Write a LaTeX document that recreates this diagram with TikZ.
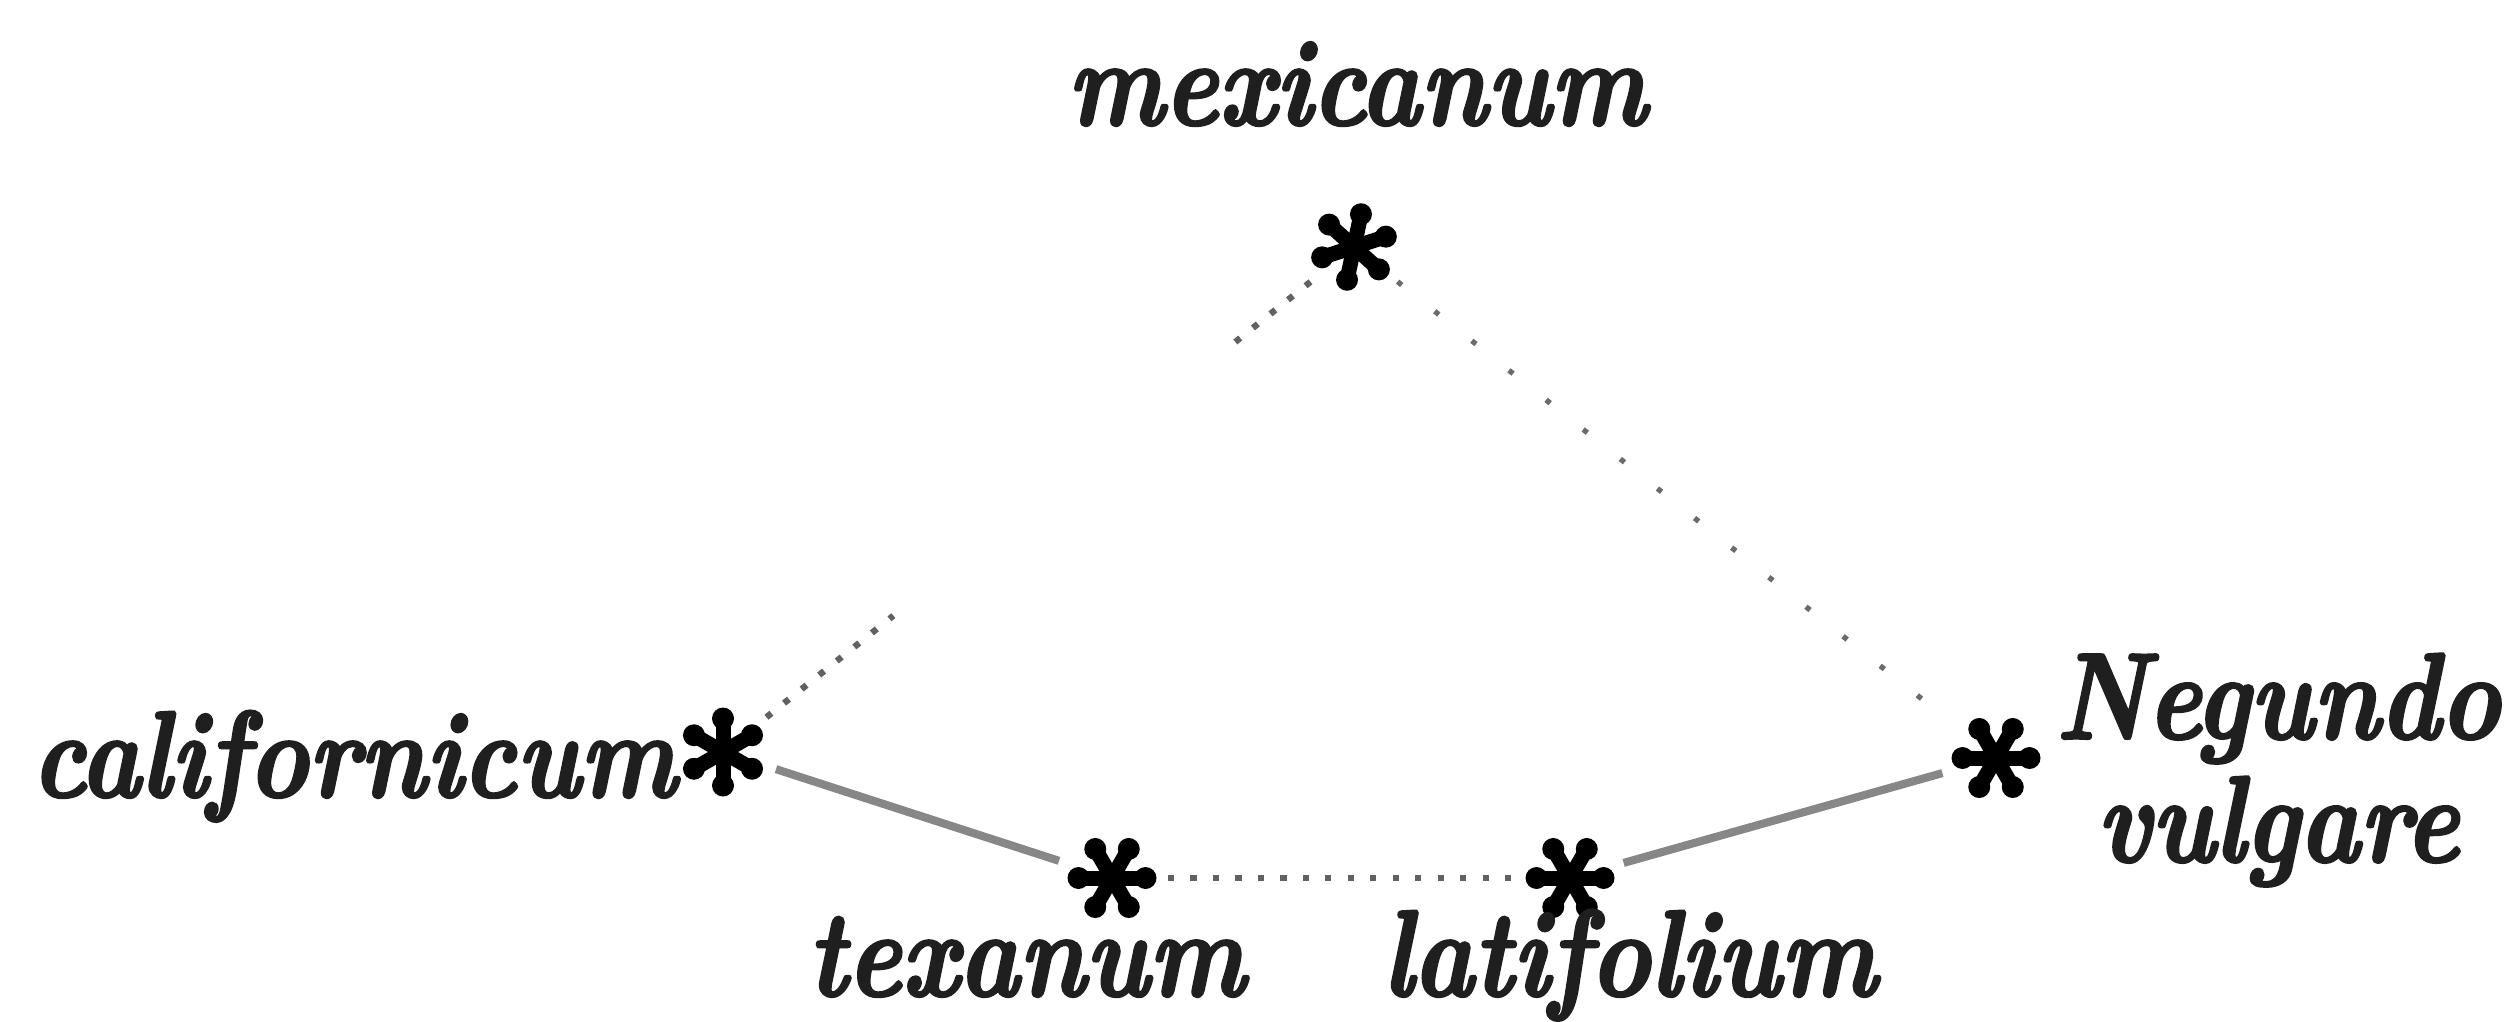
\documentclass[tikz,border=0pt]{standalone}
\usepackage{fontspec}
\usetikzlibrary{calc}
\usetikzlibrary{positioning}

\newfontfamily\taxfont{lmroman10-bolditalic}[Extension=.otf,FakeStretch=0.83,FakeBold=2]

\begin{document}
\begin{tikzpicture}[
  taxstar/.style={circle,inner sep=0pt,minimum size=1.1cm,
    path picture={\foreach \a in {0,60,120}{
      \draw[line width=0.15cm,black] ($(path picture bounding box.center)+(\a+#1:0.34)$) -- ($(path picture bounding box.center)+(\a+#1+180:0.34)$);
      \fill[black] ($(path picture bounding box.center)+(\a+#1:0.335)$) circle (0.11)
                   ($(path picture bounding box.center)+(\a+#1+180:0.335)$) circle (0.11);}}},
  taxlabel/.style={inner sep=0pt,text=black!88,font=\taxfont\fontsize{35}{35}\selectfont},
  solidlink/.style={draw=black!47,line width=2.3pt},
  closedots/.style={draw=black!62,line width=1.8pt,dash pattern=on 1.8pt off 4.6pt},
  loosedots/.style={draw=black!58,line width=1.5pt,dash pattern=on 1.5pt off 12pt}]
\useasboundingbox[fill=white] (0,0) rectangle (25.13,10.21);

% asterisks
\node[taxstar=78] (mex) at (13.54,7.74) {};
\node[taxstar=90] (cal) at (7.23,2.69) {};
\node[taxstar=0] (tex) at (11.12,1.43) {};
\node[taxstar=0] (lat) at (15.70,1.43) {};
\node[taxstar=0] (neg) at (19.96,2.63) {};

% names
\node[taxlabel,anchor=base] (mexlab) at (13.57,8.96) {mexicanum};
\node[taxlabel,anchor=base east] (callab) at (6.77,2.24) {californicum};
\node[taxlabel,anchor=base west] (texlab) at (8.07,0.25) {texanum};
\node[taxlabel,anchor=base west] (latlab) at (13.82,0.25) {latifolium};
\node[taxlabel,anchor=west,align=center] (neglab) at (20.55,2.51) {Negundo\\vulgare};

% links
\draw[solidlink] (cal) -- (tex);
\draw[solidlink] (lat) -- (neg);
\draw[closedots] (tex) -- (lat);
\draw[loosedots] (mex) -- (neg);
\draw[closedots] (cal) -- ($(cal)!0.27!(mex)$);
\draw[closedots] (mex) -- ($(mex)!0.2!(cal)$);

\end{tikzpicture}
\end{document}
